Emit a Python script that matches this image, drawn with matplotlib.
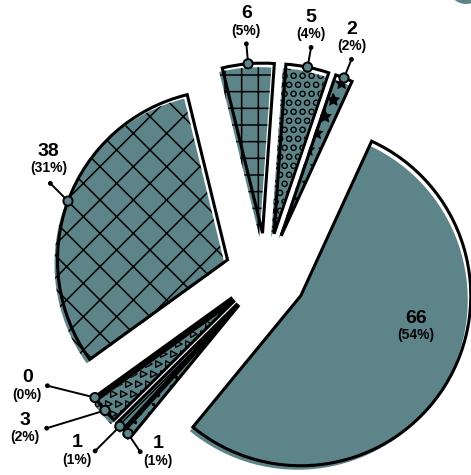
import numpy as np
import matplotlib
matplotlib.use("Agg")
import matplotlib.pyplot as plt
from matplotlib.patches import Circle

# slice values, counter-clockwise starting with the big slice
values = [66, 2, 5, 6, 38, 0, 3, 1, 1]
hatches = [None, "*", None, "+", "x", None, None, "///", None]
textures = [None, None, "ring", None, None, None, "tri", None, "dot"]

TEAL = "#5d8589"
W, H = 471, 475
cx, cy = 266, 201
R = 170
EXPLODE = 41
START = -129.4

# label layout: leader angle (deg), leader length (px), text block offset from the dot
lead_ang = [None, 68, 80, 95, 135, 166, 197, 225, 304]
lead_len = [0, 20, 20, 20, 25, 49, 61, 35, 22]
text_off = [None, (0, 22), (0, 22), (0, 22), (-2, 24), (-20, 0), (-22, 0), (-18, 0), (18, 0)]

plt.rcParams["hatch.color"] = "black"
plt.rcParams["hatch.linewidth"] = 1.1
FONT = ["Liberation Sans", "DejaVu Sans"]


def texture(ax, wedge, kind, step):
    x0, y0, x1, y1 = wedge.get_path().get_extents().extents
    xs = np.arange(x0 - step, x1 + step, step)
    ys = np.arange(y0 - step, y1 + step, step)
    X, Y = np.meshgrid(xs, ys)
    X[1::2] += step / 2
    if kind == "tri":
        sc = ax.scatter(X.ravel(), Y.ravel(), marker=">", s=22, facecolors="none",
                        edgecolors="black", linewidths=1.0, zorder=2)
    elif kind == "ring":
        sc = ax.scatter(X.ravel(), Y.ravel(), marker="o", s=14, facecolors="none",
                        edgecolors="black", linewidths=1.0, zorder=2)
    else:
        sc = ax.scatter(X.ravel(), Y.ravel(), marker="o", s=6, color="black",
                        linewidths=0, zorder=2)
    sc.set_clip_path(wedge)


def main():
    fig = plt.figure(figsize=(W / 100, H / 100), dpi=100)
    ax = fig.add_axes([0, 0, 1, 1])
    total = sum(values)
    n = len(values)
    explode = [EXPLODE] * n
    colors = ["black" if v == 0 else TEAL for v in values]

    fills, _ = ax.pie(values, startangle=START, radius=R, center=(cx - 3, cy - 4),
                      explode=explode, colors=colors, hatch=hatches, frame=True,
                      wedgeprops=dict(linewidth=0, edgecolor="black", zorder=1))
    for w, kind in zip(fills, textures):
        if kind:
            texture(ax, w, kind, 10 if kind == "tri" else 9)

    outlines, _ = ax.pie(values, startangle=START, radius=R, center=(cx, cy),
                         explode=explode, frame=True,
                         wedgeprops=dict(facecolor="none", edgecolor="black",
                                         linewidth=2.2, joinstyle="miter", zorder=3))
    for w, v in zip(outlines, values):
        if v == 0:
            w.set_linewidth(3.2)

    for i, (w, v) in enumerate(zip(outlines, values)):
        mid = np.deg2rad((w.theta1 + w.theta2) / 2)
        pct = f"({v / total:.0%})"
        if i == 0:
            tx = w.center[0] + 0.7 * R * np.cos(mid + 0.3)
            ty = w.center[1] + 0.7 * R * np.sin(mid + 0.3)
            ax.text(tx, ty + 8, str(v), ha="center", va="center", fontsize=14,
                    fontweight="bold", family=FONT, zorder=6)
            ax.text(tx, ty - 9, pct, ha="center", va="center", fontsize=10,
                    fontweight="bold", family=FONT, zorder=6)
            continue
        axp = w.center[0] + R * np.cos(mid)
        ayp = w.center[1] + R * np.sin(mid)
        a = np.deg2rad(lead_ang[i])
        dx = axp + lead_len[i] * np.cos(a)
        dy = ayp + lead_len[i] * np.sin(a)
        ax.plot([axp, dx], [ayp, dy], color="black", lw=1.4, zorder=4,
                solid_capstyle="round")
        ax.add_patch(Circle((axp, ayp), 4.6, facecolor=TEAL, edgecolor="black",
                            lw=1.4, zorder=5))
        ax.add_patch(Circle((dx, dy), 2.4, facecolor="black", edgecolor="none",
                            zorder=5))
        bx, by = dx + text_off[i][0], dy + text_off[i][1]
        ax.text(bx, by + 8, str(v), ha="center", va="center", fontsize=14,
                fontweight="bold", family=FONT, zorder=6)
        ax.text(bx, by - 9, pct, ha="center", va="center", fontsize=10,
                fontweight="bold", family=FONT, zorder=6)

    ax.add_patch(Circle((466, H + 14), 18, facecolor=TEAL, edgecolor="none", zorder=1))

    ax.set_xlim(0, W)
    ax.set_ylim(0, H)
    ax.set_aspect("auto")
    ax.axis("off")
    fig.savefig("out.png", dpi=100)


if __name__ == "__main__":
    main()
